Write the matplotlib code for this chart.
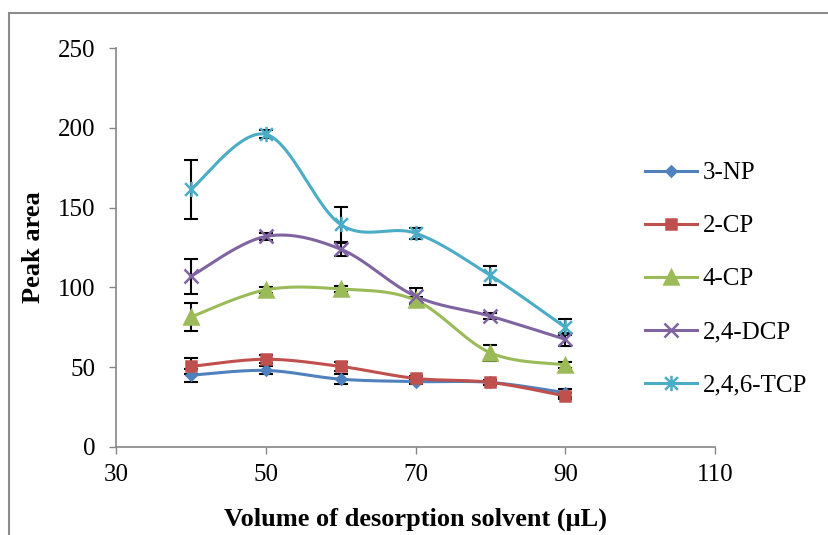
import numpy as np
import matplotlib
matplotlib.use("Agg")
import matplotlib.pyplot as plt
from matplotlib.path import Path
from matplotlib.patches import Rectangle

# ============================================================
# DATA
# ============================================================
VOLUME = [40, 50, 60, 70, 80, 90]

NP3 = [45, 48, 42.5, 41, 40.5, 34]
NP3_ERR = [4, 2.5, 3, 1.5, 1.5, 2.5]

CP2 = [50.5, 55, 50.5, 43, 40.5, 32]
CP2_ERR = [5, 2.5, 3, 1.5, 1.5, 2]

CP4 = [81.5, 98.5, 99, 92, 59, 51.5]
CP4_ERR = [9, 2, 2, 2, 5, 2]

DCP = [107, 132, 124, 94.5, 82, 67.5]
DCP_ERR = [11, 2, 4, 5, 2, 4]

TCP = [161.5, 196, 139.5, 134, 107.5, 75]
TCP_ERR = [18.5, 2.5, 11, 3.5, 6, 5]

LABELS = ["3-NP", "2-CP", "4-CP", "2,4-DCP", "2,4,6-TCP"]
COLORS = ["#4F81BD", "#C0504D", "#9BBB59", "#8064A2", "#4BACC6"]

# Excel style "star": an x with a vertical bar through it
STAR = Path(
    [(-1, -1), (1, 1), (-1, 1), (1, -1), (0, -1.2), (0, 1.2)],
    [Path.MOVETO, Path.LINETO, Path.MOVETO, Path.LINETO, Path.MOVETO, Path.LINETO],
)
MARKERS = ["D", "s", "^", "x", STAR]
MSIZES = [5, 7, 10, 10, 11]


# ============================================================
# HELPERS
# ============================================================
def smooth(x, y, n=30):
    """Catmull-Rom style smoothing, close to Excel's smoothed line."""
    x = np.asarray(x, float)
    y = np.asarray(y, float)
    px = np.concatenate([[x[0]], x, [x[-1]]])
    py = np.concatenate([[y[0]], y, [y[-1]]])
    xs, ys = [], []
    t = np.linspace(0, 1, n)
    for i in range(1, len(px) - 2):
        p0, p1, p2, p3 = px[i - 1], px[i], px[i + 1], px[i + 2]
        q0, q1, q2, q3 = py[i - 1], py[i], py[i + 1], py[i + 2]
        c1x, c1y = p1 + (p2 - p0) / 6, q1 + (q2 - q0) / 6
        c2x, c2y = p2 - (p3 - p1) / 6, q2 - (q3 - q1) / 6
        bx = (1 - t) ** 3 * p1 + 3 * (1 - t) ** 2 * t * c1x + 3 * (1 - t) * t ** 2 * c2x + t ** 3 * p2
        by = (1 - t) ** 3 * q1 + 3 * (1 - t) ** 2 * t * c1y + 3 * (1 - t) * t ** 2 * c2y + t ** 3 * q2
        xs.extend(bx)
        ys.extend(by)
    return np.array(xs), np.array(ys)


# ============================================================
# MAIN
# ============================================================
def main():
    plt.rcParams["font.family"] = ["Liberation Serif", "DejaVu Serif"]
    plt.rcParams["font.size"] = 18

    fig = plt.figure(figsize=(8.29, 5.35), dpi=100)
    ax = fig.add_axes([0.140, 0.1645, 0.7225, 0.7455])

    # outer chart border (only top and left visible in the crop)
    fig.patches.append(Rectangle((9 / 829, -0.1), 1.2, 1 - 13 / 535 + 0.1,
                                 transform=fig.transFigure, fill=False,
                                 edgecolor="#8C8C8C", linewidth=1.5))

    series = [(NP3, NP3_ERR), (CP2, CP2_ERR), (CP4, CP4_ERR), (DCP, DCP_ERR), (TCP, TCP_ERR)]

    for (vals, err), lab, col, mk, ms in zip(series, LABELS, COLORS, MARKERS, MSIZES):
        ax.errorbar(VOLUME, vals, yerr=err, fmt="none", ecolor="black",
                    elinewidth=1.5, capsize=5, capthick=1.5, zorder=2)
        sx, sy = smooth(VOLUME, vals)
        ax.plot(sx, sy, color=col, linewidth=2.2, zorder=3)
        ax.plot(VOLUME, vals, linestyle="none", marker=mk, markersize=ms,
                color=col, markeredgewidth=1.8, zorder=4)
        # legend handle
        ax.plot([], [], color=col, linewidth=2.2, marker=mk, markersize=ms,
                markeredgewidth=1.8, label=lab)

    ax.set_xlim(30, 110)
    ax.set_ylim(0, 250)
    ax.set_xticks([30, 50, 70, 90, 110])
    ax.set_yticks([0, 50, 100, 150, 200, 250])

    for side in ["top", "right"]:
        ax.spines[side].set_visible(False)
    for side in ["left", "bottom"]:
        ax.spines[side].set_color("#868686")
        ax.spines[side].set_linewidth(1.2)
    ax.tick_params(direction="out", length=5, width=1, color="#868686")
    ax.tick_params(axis="y", pad=10)
    ax.tick_params(axis="x", pad=7)

    ax.set_xlabel("Volume of desorption solvent (\u03bcL)", fontweight="bold",
                  fontsize=19, labelpad=16)
    ax.set_ylabel("Peak area", fontweight="bold", fontsize=19, labelpad=9)

    ax.legend(loc="upper left", bbox_to_anchor=(0.883, 0.715), frameon=False,
              handlelength=2.1, handletextpad=0.2, labelspacing=1.22,
              borderaxespad=0, borderpad=0)

    fig.savefig("out.png", dpi=100)
    plt.close(fig)


if __name__ == "__main__":
    main()
